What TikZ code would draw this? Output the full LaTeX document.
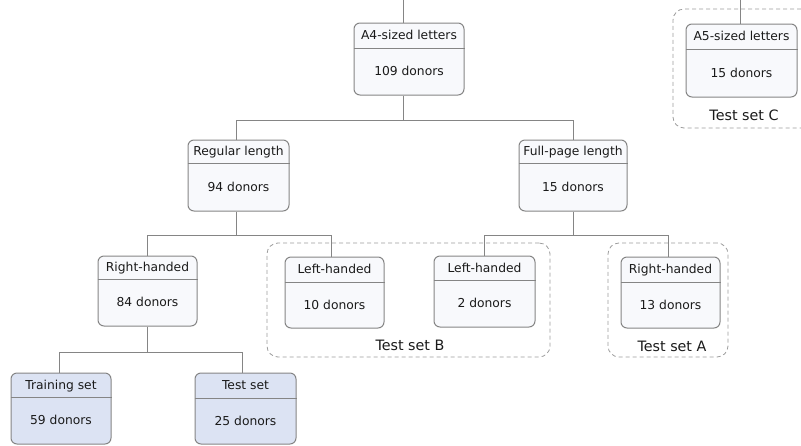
\documentclass[tikz,border=0pt]{standalone}
\usepackage{fontspec}
\setmainfont{DejaVu Sans}
\usetikzlibrary{calc}
\definecolor{edgegray}{HTML}{858585}
\definecolor{lightfill}{HTML}{F8F9FC}
\definecolor{bluefill}{HTML}{DCE3F3}
\definecolor{txtcol}{HTML}{1A1A1A}
\definecolor{dashgray}{HTML}{9C9C9C}
\tikzset{
  boxshape/.style={draw=edgegray, line width=1pt, rounded corners=6pt, inner sep=0pt},
  divline/.style={draw=edgegray, line width=1pt},
  conn/.style={draw=edgegray, line width=1pt},
  frameshape/.style={draw=dashgray, line width=0.8pt, dash pattern=on 4pt off 3pt, rounded corners=11pt, inner sep=0pt},
  lbl/.style={font=\fontsize{12.3}{14}\selectfont, text=txtcol, inner sep=0pt, text height=8.9pt, text depth=0pt},
  framelbl/.style={font=\fontsize{14.3}{16}\selectfont, text=txtcol, inner sep=0pt, text height=10.4pt, text depth=0pt},
}
% name, left, top, right, bottom, divider, title, count, fill
\newcommand\donorbox[9]{%
  \node[boxshape, fill=#9, minimum width={#4-#2}, minimum height={#5-#3}] (#1) at ({(#2+#4)/2},{(#3+#5)/2}) {};
  \draw[divline] (#1.west |- 0,#6) -- (#1.east |- 0,#6);
  \node[lbl] (#1-t) at ({(#2+#4)/2},{(#3+#6)/2}) {#7};
  \node[lbl] (#1-c) at ({(#2+#4)/2},{(#6+#5)/2}) {#8};
}
\begin{document}
\begin{tikzpicture}[x=1pt, y=-1pt]
\clip (0,0) rectangle (801,445);
% dashed frames
\node[frameshape, minimum width=139, minimum height=119] (setC) at (742.5,68.5) {};
\node[frameshape, minimum width=283, minimum height=114] (setB) at (408.5,300) {};
\node[frameshape, minimum width=120, minimum height=114] (setA) at (668,300) {};
\node[framelbl] (setC-l) at (744,115) {Test set C};
\node[framelbl] (setB-l) at (410,345) {Test set B};
\node[framelbl] (setA-l) at (672,346) {Test set A};
% boxes
\donorbox{a4}{354}{23}{464}{95}{48}{A4-sized letters}{109 donors}{lightfill}
\donorbox{a5}{686}{24}{797}{97}{49}{A5-sized letters}{15 donors}{lightfill}
\donorbox{reg}{188}{140}{289}{211}{163}{Regular length}{94 donors}{lightfill}
\donorbox{full}{519}{140}{627}{211}{163}{Full-page length}{15 donors}{lightfill}
\donorbox{rh}{98}{256}{197}{326}{279}{Right-handed}{84 donors}{lightfill}
\donorbox{lh1}{285}{257}{384}{328}{282}{Left-handed}{10 donors}{lightfill}
\donorbox{lh2}{434}{256}{535}{327}{280}{Left-handed}{2 donors}{lightfill}
\donorbox{rh2}{621}{257}{720}{328}{282}{Right-handed}{13 donors}{lightfill}
\donorbox{train}{11}{373}{111}{444}{397}{Training set}{59 donors}{bluefill}
\donorbox{test}{195}{373}{296}{444}{398}{Test set}{25 donors}{bluefill}
% connectors
\coordinate (topA) at (403,0);
\coordinate (topC) at (740,0);
\draw[conn] (topA) -- (403,0 |- a4.north);
\draw[conn] (topC) -- (740,0 |- a5.north);
\coordinate (jA) at (403,120);
\draw[conn] (403,0 |- a4.south) -- (jA);
\draw[conn] (jA) -| (236,0 |- reg.north);
\draw[conn] (jA) -| (573,0 |- full.north);
\coordinate (jR) at (236,235);
\draw[conn] (236,0 |- reg.south) -- (jR);
\draw[conn] (jR) -| (147,0 |- rh.north);
\draw[conn] (jR) -| (331,0 |- lh1.north);
\coordinate (jF) at (573,235);
\draw[conn] (573,0 |- full.south) -- (jF);
\draw[conn] (jF) -| (484,0 |- lh2.north);
\draw[conn] (jF) -| (668,0 |- rh2.north);
\coordinate (jH) at (147,352);
\draw[conn] (147,0 |- rh.south) -- (jH);
\draw[conn] (jH) -| (59,0 |- train.north);
\draw[conn] (jH) -| (242,0 |- test.north);
\end{tikzpicture}
\end{document}
